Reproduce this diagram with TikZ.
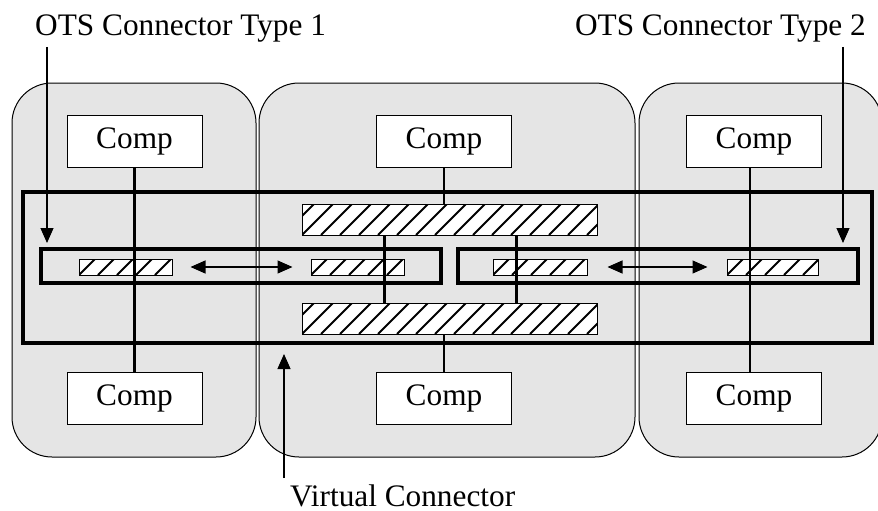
\documentclass[tikz,border=0pt]{standalone}
\usepackage{fontspec}
\setmainfont{Liberation Serif}
\usetikzlibrary{arrows.meta}

\newcommand{\lbl}{\fontsize{31.3}{33}\selectfont}

\tikzset{
  panel/.style={draw, line width=1pt, fill=black!10, rounded corners=40pt,
                inner sep=0pt, minimum height=374pt},
  comp/.style={draw, fill=white, line width=1pt, inner sep=0pt,
               minimum width=135pt, minimum height=52pt, font=\lbl},
  frame/.style={draw, line width=3.4pt, inner sep=0pt},
  % white box with diagonal hatching, 19pt apart horizontally
  hatchbox/.style={draw, line width=1pt, fill=white, inner sep=0pt,
    path picture={
      \foreach \k in {-3,...,17}
        \draw[line width=1.8pt]
          ([xshift=\k*19pt]path picture bounding box.south west) -- ++(45pt,45pt);
    }},
  link/.style={line width=2.2pt},
  dblarrow/.style={line width=1.1pt, {Triangle[length=15pt,width=13pt]}-{Triangle[length=15pt,width=13pt]}},
  pointer/.style={line width=1.1pt, -{Triangle[length=15pt,width=13pt]}},
  caption/.style={inner sep=0pt, font=\lbl}
}

\begin{document}
\begin{tikzpicture}[x=1pt,y=-1pt]
\useasboundingbox (0,0) rectangle (878,511);

% three rounded regions
\node[panel, minimum width=244pt] (pA) at (134,270) {};
\node[panel, minimum width=376pt] (pB) at (447,270) {};
\node[panel, minimum width=243pt] (pC) at (760.5,270) {};

% virtual connector and the two OTS connectors
\node[frame, minimum width=849pt, minimum height=151pt] (vc) at (447.5,267.5) {};
\node[frame, minimum width=400pt, minimum height=34pt] (ots1) at (241,266) {};
\node[frame, minimum width=400pt, minimum height=34pt] (ots2) at (658,266) {};

% hatched connector parts
\node[hatchbox, minimum width=93pt, minimum height=16pt] (h1) at (125.5,267) {};
\node[hatchbox, minimum width=93pt, minimum height=16pt] (h2) at (357.5,267) {};
\node[hatchbox, minimum width=94pt, minimum height=16pt] (h3) at (540,267) {};
\node[hatchbox, minimum width=91pt, minimum height=16pt] (h4) at (772.5,267) {};
\node[hatchbox, minimum width=295pt, minimum height=31pt] (bt) at (449.5,219.5) {};
\node[hatchbox, minimum width=295pt, minimum height=31pt] (bb) at (449.5,318.5) {};

% components
\node[comp] (c1t) at (134.5,141) {Comp};
\node[comp] (c1b) at (134.5,398) {Comp};
\node[comp] (c2t) at (444,141) {Comp};
\node[comp] (c2b) at (444,398) {Comp};
\node[comp] (c3t) at (754,141) {Comp};
\node[comp] (c3b) at (754,398) {Comp};

% wiring
\draw[link] (c1t) -- (c1b);
\draw[link] ([xshift=-4pt]c3t.south) -- ([xshift=-4pt]c3b.north);
\draw[link] (c2t.south) -- (c2t.south |- bt.north);
\draw[link] (c2b.north) -- (c2b.north |- bb.south);
\draw[link] ([xshift=83pt]bt.south west) -- ([xshift=83pt]bb.north west);
\draw[link] ([xshift=215pt]bt.south west) -- ([xshift=215pt]bb.north west);

% interactions inside the OTS connectors
\draw[dblarrow] ([xshift=18pt]h1.east) -- ([xshift=-18pt]h2.west);
\draw[dblarrow] ([xshift=20pt]h3.east) -- ([xshift=-19pt]h4.west);

% labels and pointers
\node[caption, anchor=base west] (l1) at (35,36) {OTS Connector Type 1};
\node[caption, anchor=base east] (l2) at (866,36) {OTS Connector Type 2};
\node[caption, anchor=base west] (l3) at (290,506) {Virtual Connector};
\coordinate (s1) at (47,47);
\coordinate (e1) at (47,243);
\coordinate (s2) at (843,47);
\coordinate (e2) at (843,243);
\coordinate (s3) at (284,478);
\coordinate (e3) at (284,354);
\draw[pointer] (s1) -- (e1);
\draw[pointer] (s2) -- (e2);
\draw[pointer] (s3) -- (e3);
\end{tikzpicture}
\end{document}
